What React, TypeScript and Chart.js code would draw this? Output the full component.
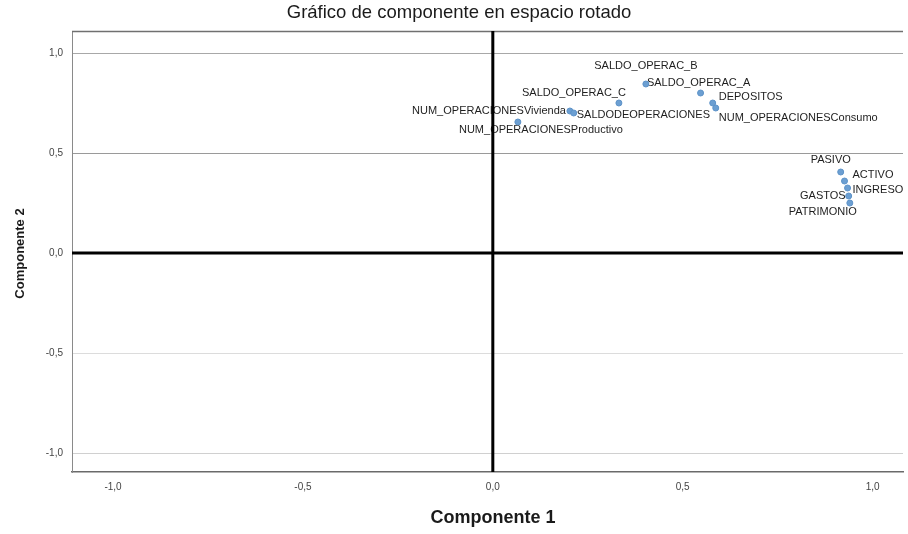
import React, { useEffect, useRef } from "react";
import { Chart, registerables } from "chart.js";

Chart.register(...registerables);

// Rotated component loadings
const variables = [
  "SALDO_OPERAC_B",
  "SALDO_OPERAC_A",
  "DEPOSITOS",
  "NUM_OPERACIONESConsumo",
  "SALDO_OPERAC_C",
  "NUM_OPERACIONESVivienda",
  "SALDODEOPERACIONES",
  "NUM_OPERACIONESProductivo",
  "PASIVO",
  "ACTIVO",
  "INGRESO",
  "GASTOS",
  "PATRIMONIO",
];
const component1 = [0.403, 0.547, 0.579, 0.587, 0.332, 0.203, 0.213, 0.066, 0.916, 0.926, 0.934, 0.937, 0.94];
const component2 = [0.845, 0.8, 0.75, 0.725, 0.75, 0.71, 0.7, 0.655, 0.405, 0.36, 0.325, 0.285, 0.25];

const axisTicks = [-1, -0.5, 0, 0.5, 1];

// Label placement relative to each point: [dx, dy, textAlign]
const labelAnchors: [number, number, CanvasTextAlign][] = [
  [0, -18, "center"],
  [-2, -10, "center"],
  [6, -6, "left"],
  [3, 10, "left"],
  [7, -10, "right"],
  [-4, 0, "right"],
  [3, 2, "left"],
  [23, 8, "center"],
  [-10, -12, "center"],
  [8, -6, "left"],
  [5, 2, "left"],
  [-3, 0, "right"],
  [7, 9, "right"],
];

const FONT = "'Liberation Sans', Arial, sans-serif";
const fmt = (v: number) => (Math.abs(v) < 1e-9 ? "0,0" : v.toFixed(1).replace(".", ","));

const gridColor: Record<string, string> = {
  "1": "#a8a8a8",
  "0.5": "#9a9a9a",
  "-0.5": "#dcdcdc",
  "-1": "#d0d0d0",
};

const decorations = {
  id: "decorations",
  beforeDatasetsDraw(chart: any) {
    const { ctx, chartArea: a, scales } = chart;
    ctx.save();
    // top frame line
    ctx.strokeStyle = "#707070";
    ctx.lineWidth = 1.5;
    ctx.beginPath();
    ctx.moveTo(a.left, a.top + 0.5);
    ctx.lineTo(a.right, a.top + 0.5);
    ctx.stroke();

    // point labels
    const meta = chart.getDatasetMeta(0);
    ctx.font = `11px ${FONT}`;
    ctx.fillStyle = "#1e1e1e";
    ctx.textBaseline = "middle";
    meta.data.forEach((pt: any, i: number) => {
      const [dx, dy, align] = labelAnchors[i];
      ctx.textAlign = align;
      ctx.fillText(variables[i], pt.x + dx, pt.y + dy);
    });

    // reference lines through the origin
    const x0 = scales.x.getPixelForValue(0);
    const y0 = scales.y.getPixelForValue(0);
    ctx.strokeStyle = "#000";
    ctx.lineWidth = 3;
    ctx.beginPath();
    ctx.moveTo(x0, a.top);
    ctx.lineTo(x0, a.bottom);
    ctx.moveTo(a.left, y0);
    ctx.lineTo(a.right, y0);
    ctx.stroke();
    ctx.restore();
  },
  afterDraw(chart: any) {
    const { ctx, chartArea: a } = chart;
    ctx.save();
    ctx.fillStyle = "#1a1a1a";
    ctx.textAlign = "center";
    ctx.textBaseline = "middle";
    ctx.font = `18.5px ${FONT}`;
    ctx.fillText("Gráfico de componente en espacio rotado", 459, 13);
    ctx.font = `bold 18px ${FONT}`;
    ctx.fillText("Componente 1", 493, 518);
    ctx.translate(20, (a.top + a.bottom) / 2 + 2);
    ctx.rotate(-Math.PI / 2);
    ctx.font = `bold 13px ${FONT}`;
    ctx.fillText("Componente 2", 0, 0);
    ctx.restore();
  },
};

export default function App() {
  const canvasRef = useRef<HTMLCanvasElement>(null);

  useEffect(() => {
    const canvas = canvasRef.current;
    if (!canvas) return;
    const chart = new Chart(canvas, {
      type: "scatter",
      data: {
        datasets: [
          {
            data: variables.map((_, i) => ({ x: component1[i], y: component2[i] })),
            backgroundColor: "#6c9fd2",
            borderColor: "#5e93c8",
            borderWidth: 1,
            pointRadius: 3,
          },
        ],
      },
      options: {
        animation: false,
        responsive: false,
        maintainAspectRatio: false,
        layout: { padding: { top: 31, right: 3, left: 0, bottom: 0 } },
        plugins: { legend: { display: false }, tooltip: { enabled: false }, title: { display: false } },
        scales: {
          x: {
            type: "linear",
            min: -1.108,
            max: 1.08,
            afterFit: (s: any) => {
              s.height = 62;
            },
            afterBuildTicks: (s: any) => {
              s.ticks = axisTicks.map((v) => ({ value: v }));
            },
            grid: { display: false, drawTicks: false },
            border: { display: true, color: "#6a6a6a", width: 1.5 },
            ticks: {
              padding: 9,
              color: "#444",
              font: { family: FONT, size: 10 },
              callback: (v: any) => fmt(Number(v)),
            },
          },
          y: {
            type: "linear",
            min: -1.095,
            max: 1.11,
            afterFit: (s: any) => {
              s.width = 72;
            },
            afterBuildTicks: (s: any) => {
              s.ticks = axisTicks.map((v) => ({ value: v }));
            },
            grid: {
              drawTicks: false,
              lineWidth: 1,
              color: (c: any) => (c.tick && c.tick.value !== 0 ? gridColor[String(c.tick.value)] || "#ddd" : "rgba(0,0,0,0)"),
            },
            border: { display: true, color: "#8a8a8a", width: 1 },
            ticks: {
              padding: 9,
              color: "#444",
              font: { family: FONT, size: 10 },
              callback: (v: any) => fmt(Number(v)),
            },
          },
        },
      },
      plugins: [decorations],
    });
    return () => chart.destroy();
  }, []);

  return (
    <div style={{ position: "fixed", left: 0, top: 0, width: 908, height: 534, background: "#fff" }}>
      <canvas ref={canvasRef} width={908} height={534} style={{ width: 908, height: 534, display: "block" }} />
    </div>
  );
}
